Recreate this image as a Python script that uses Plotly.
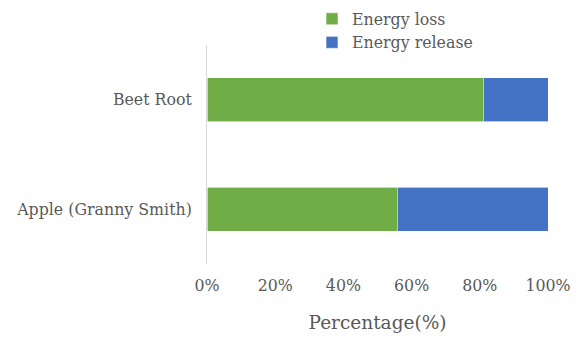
import plotly.graph_objects as go

categories = ["Apple (Granny Smith)", "Beet Root"]
energy_loss = [55.8, 81.0]
energy_release = [44.2, 19.0]
tick_vals = [0, 20, 40, 60, 80, 100]
tick_text = ["0%", "20%", "40%", "60%", "80%", "100%"]

font_family = "DejaVu Serif"
text_color = "#595959"
label_size = 15.8

fig = go.Figure()
fig.add_trace(go.Bar(
    y=categories, x=energy_loss, orientation="h", name="Energy loss",
    marker=dict(color="#70AD47", line=dict(color="#FFFFFF", width=0.6)),
))
fig.add_trace(go.Bar(
    y=categories, x=energy_release, orientation="h", name="Energy release",
    marker=dict(color="#4472C4", line=dict(color="#FFFFFF", width=0.6)),
))

fig.update_layout(
    barmode="stack",
    bargap=0.6,
    width=579, height=337,
    margin=dict(l=207, r=31, t=45, b=73, autoexpand=False),
    paper_bgcolor="white", plot_bgcolor="white",
    font=dict(family=font_family, color=text_color, size=label_size),
    legend=dict(
        x=(312 - 207) / 341, y=1 + 43 / 219, xanchor="left", yanchor="top",
        traceorder="normal", font=dict(size=15.8, color=text_color, family=font_family),
        itemwidth=30, tracegroupgap=0, bgcolor="rgba(0,0,0,0)",
    ),
    showlegend=True,
    xaxis=dict(
        range=[0, 100], tickvals=tick_vals, ticktext=tick_text,
        showgrid=False, zeroline=False, showline=False,
        tickfont=dict(size=label_size, color=text_color, family=font_family),
        ticks="", ticklabelstandoff=10,
        title=dict(text="Percentage(%)", font=dict(size=18.5, color=text_color, family=font_family),
                   standoff=22),
    ),
    yaxis=dict(
        showgrid=False, zeroline=False, showline=True, linecolor="#D9D9D9", linewidth=1,
        ticks="", tickfont=dict(size=label_size, color=text_color, family=font_family),
        ticklabelstandoff=11,
    ),
)

fig.write_html("out.html")
